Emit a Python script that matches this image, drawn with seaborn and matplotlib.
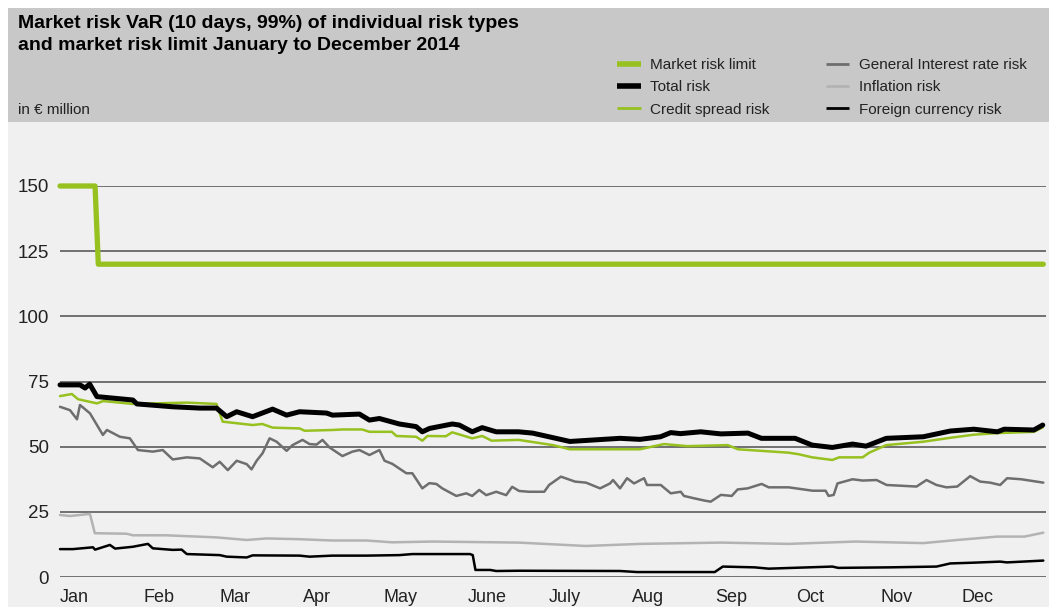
import numpy as np
import pandas as pd
import seaborn as sns
import matplotlib.pyplot as plt
from matplotlib.patches import Rectangle
from matplotlib.lines import Line2D

# day of year (0 = 1 Jan 2014) and VaR values in EUR million
limit_day = [0, 13, 14.2, 364.5]
limit_val = [150, 150, 120, 120]

total_day = [0, 7.4, 9.3, 11, 13.7, 27, 28.5, 41.8, 51.8, 58, 61.8, 65.5, 71.4, 78.8, 84, 88.8,
             98.8, 101, 111, 114.7, 118.4, 125.8, 132, 134.3, 137, 145.4, 148, 152.8, 156.5, 161.7,
             170, 175.2, 189, 207.6, 215, 222.6, 226.4, 230, 237.5, 245, 255, 260, 272.5, 278.8,
             286.3, 293.8, 298.8, 306.3, 320, 330, 338.7, 347.5, 350, 361, 364.3]
total_val = [73.7, 73.7, 72.5, 74, 69.2, 67.9, 66.4, 65.3, 64.8, 64.8, 61.5, 63.4, 61.5, 64.4, 62.1, 63.4,
             62.9, 62.1, 62.5, 60.2, 60.8, 58.7, 57.7, 55.7, 57, 58.7, 58.3, 55.7, 57.3, 55.7,
             55.7, 55.2, 52, 53.2, 52.8, 53.8, 55.4, 55, 55.7, 54.9, 55.2, 53.2, 53.2, 50.6,
             49.7, 51, 50.2, 53.2, 53.8, 56, 56.7, 55.7, 56.7, 56.4, 58.3]

credit_day = [0, 4.4, 6.7, 13.7, 16, 27, 47, 58, 60.3, 71.4, 75, 78.8, 88.8, 90.7, 101, 104.7, 112,
              114.7, 123, 124.7, 132, 134.3, 136.2, 143, 145.4, 152.8, 156.5, 160, 170, 182.7, 189,
              215, 223.9, 232.6, 247.5, 251.3, 270, 273.8, 278.8, 286.3, 288.8, 297.5, 300, 306.3,
              320, 330, 338.7, 347.5, 361, 364.3]
credit_val = [69.4, 70.2, 68.2, 66.6, 67.5, 66.4, 66.9, 66.4, 59.6, 58.3, 58.7, 57.3, 57, 56.1, 56.4, 56.6, 56.6,
              55.7, 55.7, 54.1, 53.8, 52.3, 54.1, 54, 55.5, 53.2, 54.1, 52.3, 52.6, 50.6, 49,
              49, 51, 50.2, 50.6, 49, 47.7, 47.1, 45.9, 44.9, 45.9, 45.9, 47.7, 50.6,
              51.9, 53.4, 54.6, 55.2, 55.7, 57.4]

gir_day = [0, 3.7, 6.3, 7.4, 11.1, 13.7, 15.9, 17.4, 22.2, 25.9, 28.9, 34.4, 38.1, 41.8, 47, 51.8,
           56.6, 59.2, 62.2, 65.5, 69.2, 71, 72.9, 75.1, 77.7, 80.3, 84, 86.2, 89.9, 92.5, 95.1,
           97.3, 99.9, 104.7, 108.4, 111, 114.7, 118.4, 120.3, 123.2, 128.4, 130.6, 134.3, 136.9,
           139.5, 141.7, 146.9, 150.6, 152.8, 155.4, 158, 161.7, 165.4, 167.6, 170.2, 173.9,
           179.5, 181.3, 185.7, 190.9, 195, 200.2, 203.9, 205, 207.6, 210.2, 212.8, 216.5, 217.6,
           222.7, 226.4, 230.1, 231.3, 235, 239, 241.2, 245, 249, 251.2, 254.9, 260.1, 262.7,
           270.1, 279, 283.8, 284.9, 286.8, 288.2, 293.8, 297.5, 302.7, 306.4, 317.5, 321.2,
           324.9, 328.6, 332.6, 337.4, 341.1, 344.8, 348.5, 351.1, 356.3, 364.5]
gir_val = [65.3, 64, 60.5, 66, 62.8, 58.3, 54.5, 56.4, 53.8, 53.2, 48.7, 48.1, 48.7, 45.1, 45.9, 45.5,
           42.1, 44.2, 41, 44.6, 43.3, 41.3, 44.6, 47.5, 53.2, 51.9, 48.4, 50.6, 52.6, 51, 50.8,
           52.6, 49.7, 46.4, 48.1, 48.7, 46.8, 48.7, 44.6, 43.4, 39.8, 39.8, 34, 36,
           35.7, 34, 31.1, 32.1, 31.1, 33.4, 31.4, 32.7, 31.4, 34.6, 33, 32.7,
           32.7, 35.3, 38.5, 36.6, 36.2, 34, 35.9, 37.2, 34, 37.9, 35.9, 37.9, 35.3,
           35.3, 32.1, 32.7, 31.1, 30.2, 29.3, 28.9, 31.5, 31.1, 33.6, 34, 35.7, 34.4,
           34.4, 33.1, 33.1, 31.1, 31.5, 35.9, 37.5, 37, 37.2, 35.3, 34.7, 37.2,
           35.3, 34.4, 34.7, 38.7, 36.6, 36.2, 35.3, 37.9, 37.5, 36.2]

infl_day = [0, 3.7, 11.1, 12.9, 24.7, 27, 39.2, 58, 69.2, 76.6, 88.8, 101, 113.6, 123.2, 138, 170,
            195, 215, 245, 270, 295, 320, 332.6, 347.5, 357.5, 364.5]
infl_val = [23.8, 23.4, 24.2, 16.8, 16.6, 16, 16, 15.2, 14.2, 14.8, 14.5, 14, 14, 13.3, 13.6, 13.2,
            11.9, 12.7, 13.2, 12.7, 13.6, 13, 14.2, 15.5, 15.5, 17]

fx_day = [0, 4.8, 12.2, 13, 18.5, 20.4, 27, 32.6, 34.4, 41.8, 45.1, 47, 59.2, 61.8, 69.2, 71.4, 88.8,
          92.5, 101, 113.6, 125.8, 130.6, 152, 153, 154, 159.5, 161.7, 170, 207.6, 213.9, 242.7,
          245.7, 257.5, 262.7, 286.3, 288.5, 307.5, 324.9, 330, 338.7, 348.5, 351, 364.5]
fx_val = [10.7, 10.7, 11.4, 10.5, 12.3, 10.9, 11.6, 12.7, 11, 10.4, 10.5, 8.8, 8.4, 7.8, 7.5, 8.3, 8.2,
          7.8, 8.2, 8.2, 8.4, 8.8, 8.8, 8.4, 2.7, 2.7, 2.3, 2.4, 2.3, 1.9, 1.9,
          4.0, 3.7, 3.2, 4.0, 3.5, 3.7, 4.0, 5.2, 5.5, 5.9, 5.6, 6.3]

month_starts = [0, 31, 59, 90, 120, 151, 181, 212, 243, 273, 304, 334]
month_labels = ['Jan', 'Feb', 'Mar', 'Apr', 'May', 'June', 'July', 'Aug', 'Sep', 'Oct', 'Nov', 'Dec']
y_ticks = [0, 25, 50, 75, 100, 125, 150]

green = '#96c11f'
dark_grey = '#6e6e6e'
light_grey = '#b3b3b3'

sns.set_style('white')
plt.rcParams['font.family'] = ['Liberation Sans', 'DejaVu Sans']

W, H = 1049, 607
fig = plt.figure(figsize=(W / 100, H / 100), dpi=100)
fig.patch.set_facecolor('white')
# header band and plot background
fig.patches.append(Rectangle((8 / W, (H - 122) / H), 1, 114 / H, transform=fig.transFigure,
                             facecolor='#c8c8c8', edgecolor='none', zorder=-5))
fig.patches.append(Rectangle((8 / W, 0), 1, (H - 122) / H, transform=fig.transFigure,
                             facecolor='#f0f0f0', edgecolor='none', zorder=-5))

ax = fig.add_axes([60 / W, (H - 577) / H, 986 / W, 391 / H])
ax.set_facecolor('none')

series = [
    (limit_day, limit_val, green, 3.8, 'Market risk limit'),
    (gir_day, gir_val, dark_grey, 1.8, 'General Interest rate risk'),
    (infl_day, infl_val, light_grey, 1.8, 'Inflation risk'),
    (fx_day, fx_val, 'black', 1.8, 'Foreign currency risk'),
    (credit_day, credit_val, green, 1.8, 'Credit spread risk'),
    (total_day, total_val, 'black', 3.6, 'Total risk'),
]
for d, v, c, lw, name in series:
    sns.lineplot(x=d, y=v, color=c, linewidth=lw, estimator=None, ax=ax)
for ln in ax.lines:
    ln.set_clip_on(False)
    ln.set_solid_capstyle('round')
    ln.set_solid_joinstyle('round')

for yv in y_ticks:
    ax.axhline(yv, color='#4d4d4d', linewidth=1.1, zorder=0.5)

ax.set_xlim(0, 365.5)
ax.set_ylim(0, 150)
ax.set_xticks(month_starts)
ax.set_xticklabels(month_labels, ha='left')
ax.set_yticks(y_ticks)
ax.set_yticklabels([str(t) for t in y_ticks])
ax.tick_params(axis='x', length=0, pad=9, labelsize=13, labelcolor='#222222')
ax.tick_params(axis='y', length=0, pad=8, labelsize=13.5, labelcolor='#222222')
ax.set_xlabel('')
ax.set_ylabel('')
for s in ax.spines.values():
    s.set_visible(False)

fig.text(18 / W, 1 - 15 / H, 'Market risk VaR (10 days, 99%) of individual risk types\n'
         'and market risk limit January to December 2014',
         ha='left', va='top', fontsize=14, fontweight='bold', color='black', linespacing=1.4)
fig.text(18 / W, 1 - 110 / H, 'in € million', ha='left', va='center', fontsize=11, color='#222222')

handles = [
    Line2D([], [], color=green, lw=4, solid_capstyle='butt'),
    Line2D([], [], color='black', lw=4, solid_capstyle='butt'),
    Line2D([], [], color=green, lw=2, solid_capstyle='butt'),
    Line2D([], [], color=dark_grey, lw=2, solid_capstyle='butt'),
    Line2D([], [], color=light_grey, lw=2, solid_capstyle='butt'),
    Line2D([], [], color='black', lw=2, solid_capstyle='butt'),
]
labels = ['Market risk limit', 'Total risk', 'Credit spread risk',
          'General Interest rate risk', 'Inflation risk', 'Foreign currency risk']
leg = fig.legend(handles, labels, ncol=2, loc='upper left', bbox_to_anchor=(617 / W, 1 - 58 / H),
                 frameon=False, fontsize=11, handlelength=1.55, handletextpad=0.6,
                 columnspacing=3.7, labelspacing=0.55, borderaxespad=0, borderpad=0)
for t in leg.get_texts():
    t.set_color('#222222')

fig.savefig('out.png', dpi=100)
